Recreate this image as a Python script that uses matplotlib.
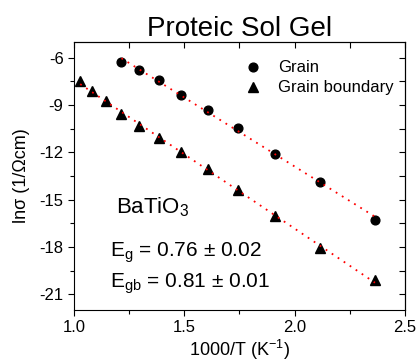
import numpy as np
import matplotlib
matplotlib.use('Agg')
import matplotlib.pyplot as plt
from matplotlib.ticker import MultipleLocator, FixedLocator, NullFormatter

plt.rcParams['font.family'] = ['Liberation Sans', 'DejaVu Sans']
plt.rcParams['mathtext.fontset'] = 'custom'
plt.rcParams['mathtext.rm'] = 'Liberation Sans'
plt.rcParams['mathtext.default'] = 'regular'
plt.rcParams['axes.unicode_minus'] = False

# grain (circles)
x_grain = [1.215, 1.294, 1.383, 1.486, 1.605, 1.745, 1.912, 2.114, 2.364]
y_grain = [-6.28, -6.75, -7.43, -8.39, -9.32, -10.45, -12.11, -13.88, -16.26]

# grain boundary (triangles)
x_gb = [1.028, 1.083, 1.145, 1.215, 1.294, 1.383, 1.486, 1.605, 1.745,
        1.912, 2.114, 2.364]
y_gb = [-7.49, -8.13, -8.74, -9.57, -10.30, -11.10, -12.00, -13.06, -14.36,
        -16.06, -18.06, -20.11]

x_ticks = [1.0, 1.5, 2.0, 2.5]
y_ticks = [-6, -9, -12, -15, -18, -21]


def main():
    fig = plt.figure(figsize=(4.17, 3.63), dpi=100)
    ax = fig.add_axes([74 / 417, 1 - 310 / 363, 331 / 417, 268 / 363])

    # linear fits
    for xs, ys in ((x_grain, y_grain), (x_gb, y_gb)):
        p = np.polyfit(xs, ys, 1)
        xf = np.array([xs[0], xs[-1]])
        ax.plot(xf, np.polyval(p, xf), color='red', ls=(0, (1, 3)), lw=1.3,
                zorder=3)

    ax.plot(x_grain, y_grain, 'o', color='black', ms=6.3, label='Grain',
            zorder=2)
    ax.plot(x_gb, y_gb, '^', color='black', ms=7.3, label='Grain boundary',
            zorder=2)

    ax.set_xlim(1.0, 2.5)
    ax.set_ylim(-22, -5)
    ax.xaxis.set_major_locator(FixedLocator(x_ticks))
    ax.xaxis.set_minor_locator(MultipleLocator(0.25))
    ax.yaxis.set_major_locator(FixedLocator(y_ticks))
    ax.yaxis.set_minor_locator(MultipleLocator(1.5))
    ax.xaxis.set_major_formatter(lambda v, pos: f'{v:.1f}')
    ax.yaxis.set_major_formatter(lambda v, pos: f'{v:.0f}')
    ax.tick_params(which='both', direction='out', labelsize=12, width=0.8)
    ax.tick_params(which='major', length=4)
    ax.tick_params(which='minor', length=3)

    # top and right ticks pointing inwards, no labels
    top = ax.secondary_xaxis('top')
    top.xaxis.set_major_locator(MultipleLocator(0.25))
    top.xaxis.set_major_formatter(NullFormatter())
    top.tick_params(direction='in', length=4, width=0.8)
    right = ax.secondary_yaxis('right')
    right.yaxis.set_major_locator(MultipleLocator(1.5))
    right.yaxis.set_major_formatter(NullFormatter())
    right.tick_params(direction='in', length=4, width=0.8)

    ax.set_xlabel('1000/T (K$^{-1}$)', fontsize=13, labelpad=2)
    ax.set_ylabel('ln\u03c3 (1/\u03a9cm)', fontsize=13, labelpad=7)
    ax.set_title('Proteic Sol Gel', fontsize=20, pad=3)

    ax.legend(loc='upper right', frameon=False, fontsize=12,
              handletextpad=0.5, borderaxespad=0.3, labelspacing=0.3,
              bbox_to_anchor=(1.0, 0.975))

    ax.text(116 / 417, 1 - 213 / 363, 'BaTiO$_3$', transform=fig.transFigure,
            fontsize=16, va='baseline')
    ax.text(110 / 417, 1 - 257 / 363, 'E$_g$ = 0.76 \u00b1 0.02',
            transform=fig.transFigure, fontsize=15, va='baseline')
    ax.text(110 / 417, 1 - 288 / 363, 'E$_{gb}$ = 0.81 \u00b1 0.01',
            transform=fig.transFigure, fontsize=15, va='baseline')

    fig.savefig('out.png', dpi=100)


if __name__ == '__main__':
    main()
